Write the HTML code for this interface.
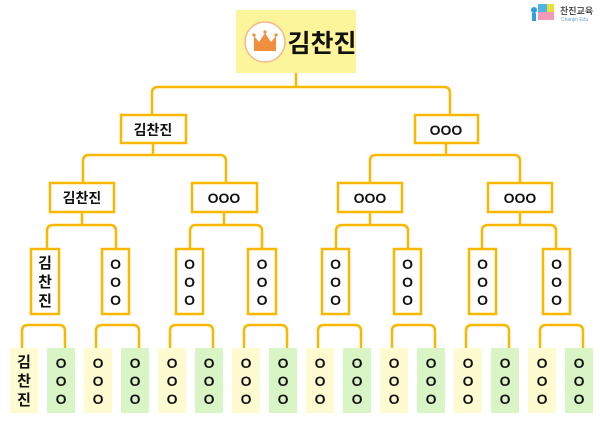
<!DOCTYPE html>
<html><head><meta charset="utf-8"><style>
html,body{margin:0;padding:0;background:#fff;}
svg{display:block;}
text{font-family:"Liberation Sans","Noto Sans CJK KR",sans-serif;font-weight:bold;fill:#111;}
</style></head><body>
<svg width="600" height="424" viewBox="0 0 600 424" xmlns="http://www.w3.org/2000/svg">
<defs>
<g id="ooo" font-size="14" text-anchor="middle"><text x="0" y="269">O</text><text x="0" y="287">O</text><text x="0" y="305">O</text></g>
<g id="o2" font-size="14" text-anchor="middle"><text x="0" y="368">O</text><text x="0" y="386">O</text><text x="0" y="404">O</text></g>
<path id="l4" d="M22 348 V331 Q22 325 28 325 H59 Q65 325 65 331 V348"/>
</defs>
<g fill="none" stroke="#f8b800" stroke-width="2.5" stroke-linejoin="round">
<path d="M296 73 V87"/>
<path d="M152 115 V93 Q152 87 158 87 H444 Q450 87 450 93 V115"/>
<path d="M153 143 V155"/>
<path d="M83 183 V161 Q83 155 89 155 H220 Q226 155 226 161 V183"/>
<path d="M446 143 V155"/>
<path d="M370 183 V161 Q370 155 376 155 H514 Q520 155 520 161 V183"/>
<path d="M82 212 V225 M224 212 V225 M370 212 V225 M520 212 V225"/>
<path d="M47 249 V231 Q47 225 53 225 H110 Q116 225 116 231 V249"/>
<path d="M190 249 V231 Q190 225 196 225 H256 Q262 225 262 231 V249"/>
<path d="M336 249 V231 Q336 225 342 225 H402 Q408 225 408 231 V249"/>
<path d="M482 249 V231 Q482 225 488 225 H550 Q556 225 556 231 V249"/>
<use href="#l4"/><use href="#l4" x="74"/><use href="#l4" x="148"/><use href="#l4" x="222"/><use href="#l4" x="296"/><use href="#l4" x="370"/><use href="#l4" x="444"/><use href="#l4" x="518"/>
</g>
<rect x="236" y="10" width="120" height="63" fill="#fdf59a"/>
<circle cx="265" cy="42" r="20" fill="#fff" stroke="#f3b98c" stroke-width="1.5"/>
<path d="M254 51 L254 36 L259 42 L265 33 L271 42 L276 36 L276 51 Z" fill="#f18f3c"/>
<circle cx="254" cy="35" r="1.6" fill="#f18f3c"/><circle cx="265" cy="32" r="1.6" fill="#f18f3c"/><circle cx="276" cy="35" r="1.6" fill="#f18f3c"/>
<text x="322" y="52" font-size="25" text-anchor="middle">김찬진</text>
<g fill="#fff" stroke="#f8b800" stroke-width="2.5">
<rect x="121" y="115" width="65" height="28"/>
<rect x="415" y="115" width="63" height="28"/>
<rect x="50" y="183" width="64" height="29"/>
<rect x="192" y="183" width="65" height="29"/>
<rect x="338" y="183" width="64" height="29"/>
<rect x="488" y="183" width="64" height="29"/>
<rect x="31" y="249" width="28" height="65"/>
<rect x="102" y="249" width="27" height="65"/>
<rect x="176" y="249" width="27" height="65"/>
<rect x="248" y="249" width="28" height="65"/>
<rect x="322" y="249" width="27" height="65"/>
<rect x="394" y="249" width="27" height="65"/>
<rect x="469" y="249" width="27" height="65"/>
<rect x="543" y="249" width="27" height="65"/>
</g>
<g font-size="14" text-anchor="middle">
<text x="153" y="135">김찬진</text>
<text x="446" y="135">OOO</text>
<text x="82" y="203">김찬진</text>
<text x="224" y="203">OOO</text>
<text x="370" y="203">OOO</text>
<text x="520" y="203">OOO</text>
</g>
<g font-size="15" text-anchor="middle">
<text x="45" y="268">김</text><text x="45" y="287">찬</text><text x="45" y="306">진</text>
</g>
<use href="#ooo" x="115.5"/><use href="#ooo" x="189.5"/><use href="#ooo" x="262"/><use href="#ooo" x="335.5"/><use href="#ooo" x="407.5"/><use href="#ooo" x="482.5"/><use href="#ooo" x="556.5"/>
<g>
<rect x="10" y="348" width="28" height="65" fill="#fffbd0"/><rect x="47" y="348" width="28" height="65" fill="#d9f5c5"/>
<rect x="84" y="348" width="28" height="65" fill="#fffbd0"/><rect x="121" y="348" width="28" height="65" fill="#d9f5c5"/>
<rect x="158" y="348" width="28" height="65" fill="#fffbd0"/><rect x="195" y="348" width="28" height="65" fill="#d9f5c5"/>
<rect x="232" y="348" width="28" height="65" fill="#fffbd0"/><rect x="269" y="348" width="28" height="65" fill="#d9f5c5"/>
<rect x="306" y="348" width="28" height="65" fill="#fffbd0"/><rect x="343" y="348" width="28" height="65" fill="#d9f5c5"/>
<rect x="380" y="348" width="28" height="65" fill="#fffbd0"/><rect x="417" y="348" width="28" height="65" fill="#d9f5c5"/>
<rect x="454" y="348" width="28" height="65" fill="#fffbd0"/><rect x="491" y="348" width="28" height="65" fill="#d9f5c5"/>
<rect x="528" y="348" width="28" height="65" fill="#fffbd0"/><rect x="565" y="348" width="28" height="65" fill="#d9f5c5"/>
</g>
<g font-size="15" text-anchor="middle">
<text x="24" y="367">김</text><text x="24" y="386">찬</text><text x="24" y="405">진</text>
</g>
<use href="#o2" x="61"/><use href="#o2" x="98"/><use href="#o2" x="135"/><use href="#o2" x="172"/><use href="#o2" x="209"/><use href="#o2" x="246"/><use href="#o2" x="283"/><use href="#o2" x="320"/><use href="#o2" x="357"/><use href="#o2" x="394"/><use href="#o2" x="431"/><use href="#o2" x="468"/><use href="#o2" x="505"/><use href="#o2" x="542"/><use href="#o2" x="579"/>
<rect x="538" y="4" width="9" height="8" fill="#4db8e8"/><rect x="547" y="4" width="7" height="8" fill="#e8e03a"/>
<rect x="538" y="12" width="9" height="8" fill="#f39ab8"/><rect x="547" y="12" width="7" height="8" fill="#f39ab8"/>
<circle cx="534" cy="10" r="3" fill="#2aa0e0"/><rect x="532" y="13" width="4" height="8" fill="#2aa0e0"/>
<text x="560" y="14" font-size="9" style="fill:#555">찬진교육</text>
<text x="561" y="21" font-size="5" style="fill:#6aa8d8;font-weight:normal">Chanjin Edu</text>
</svg>
</body></html>
